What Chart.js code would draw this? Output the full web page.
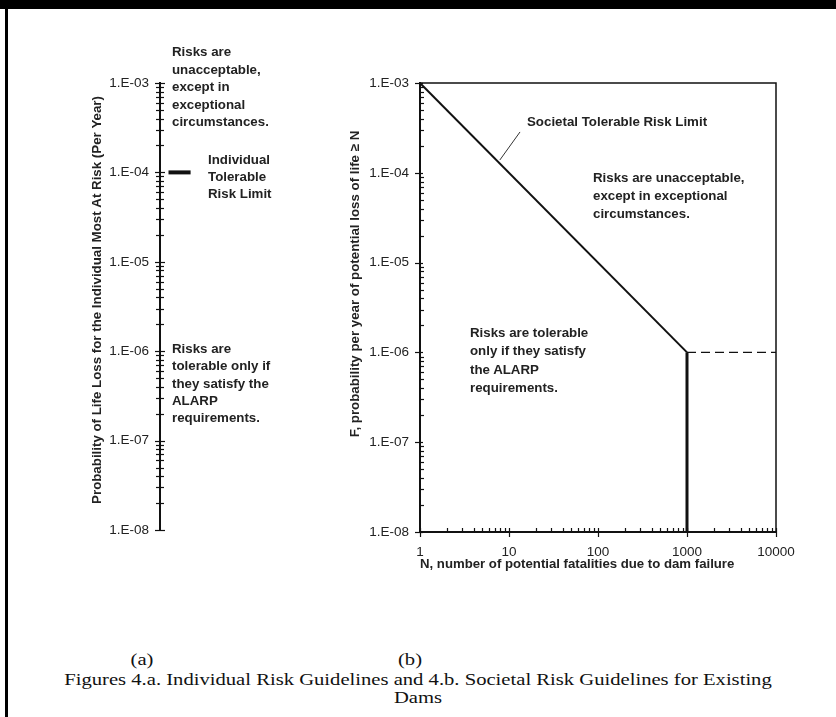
<!DOCTYPE html>
<html>
<head>
<meta charset="utf-8">
<script src="https://cdn.jsdelivr.net/npm/chart.js@4.4.1/dist/chart.umd.min.js"></script>
<style>
  body { margin: 0; background: #fff; }
  #page { position: relative; width: 836px; height: 717px; overflow: hidden; }
  canvas { position: absolute; top: 0; }
  .frameTop { position: absolute; left: 0; top: 0; width: 836px; height: 9px; background: #000; }
  .frameLeft { position: absolute; left: 5px; top: 0; width: 3px; height: 717px; background: #000; }
  .note { position: absolute; font: bold 13.3px "Liberation Sans", Arial, sans-serif; color: #222; line-height: 17.5px; white-space: nowrap; z-index: 2; }
  .cap { position: absolute; font: 16.5px "Liberation Serif", "Times New Roman", serif; color: #111; white-space: nowrap; transform: translateX(-50%) scaleX(1.25); z-index: 2; line-height: 18px; }
</style>
</head>
<body>
<div id="page">
  <div class="frameTop"></div>
  <div class="frameLeft"></div>
  <canvas id="chartA" width="330" height="600" style="left:0"></canvas>
  <canvas id="chartB" width="506" height="600" style="left:330px"></canvas>

  <div class="note" style="left:172px; top:43px">Risks are<br>unacceptable,<br>except in<br>exceptional<br>circumstances.</div>
  <div class="note" style="left:208px; top:151px; line-height:17px">Individual<br>Tolerable<br>Risk Limit</div>
  <div class="note" style="left:172px; top:340px; line-height:17.3px">Risks are<br>tolerable only if<br>they satisfy the<br>ALARP<br>requirements.</div>

  <div class="note" style="left:527px; top:113px">Societal Tolerable Risk Limit</div>
  <div class="note" style="left:593px; top:169px; line-height:18px">Risks are unacceptable,<br>except in exceptional<br>circumstances.</div>
  <div class="note" style="left:470px; top:324px; line-height:18.3px">Risks are tolerable<br>only if they satisfy<br>the ALARP<br>requirements.</div>

  <div class="cap" style="left:142px; top:651px">(a)</div>
  <div class="cap" style="left:410px; top:651px">(b)</div>
  <div class="cap" style="left:418px; top:671px">Figures 4.a. Individual Risk Guidelines and 4.b. Societal Risk Guidelines for Existing</div>
  <div class="cap" style="left:418px; top:689px">Dams</div>
</div>
<script>
// probability axis (both panels)
const probMajor = [1e-8, 1e-7, 1e-6, 1e-5, 1e-4, 1e-3];
const probLabels = ['1.E-08', '1.E-07', '1.E-06', '1.E-05', '1.E-04', '1.E-03'];
// N axis (panel b)
const nMajor = [1, 10, 100, 1000, 10000];
const nLabels = ['1', '10', '100', '1000', '10000'];

// panel (a): individual tolerable risk limit
const individualLimit = 1e-4;
const limitMarkX = [0.05, 0.18];

// panel (b): societal tolerable risk limit
const societalN = [1, 1000];
const societalF = [1e-3, 1e-6];
const cutoffN = [1000, 1000];
const cutoffF = [1e-6, 1e-8];
const dashedN = [1000, 10000];
const dashedF = [1e-6, 1e-6];
const leaderN = [7.9, 13.3];
const leaderF = [1.39e-4, 2.85e-4];

const FONT = '"Liberation Sans", Arial, sans-serif';
const INK = '#111';

function withMinors(majors) {
  const out = [];
  majors.forEach((v, i) => {
    out.push(v);
    if (i < majors.length - 1) {
      for (let k = 2; k <= 9; k++) out.push(v * k);
    }
  });
  return out;
}
const pts = (xs, ys) => xs.map((x, i) => ({ x: x, y: ys[i] }));
const isMajor = (list, v) => list.some(m => Math.abs(m - v) / m < 1e-9);
const labelFor = (list, labels) => function (value) {
  const i = list.findIndex(m => Math.abs(m - value) / m < 1e-9);
  return i >= 0 ? labels[i] : '';
};

// tick marks + rotated y title + optional frame
const tickPlugin = {
  id: 'ticks',
  afterDraw(chart, args, opts) {
    const ctx = chart.ctx;
    const area = chart.chartArea;
    ctx.save();
    ctx.strokeStyle = INK;
    ctx.lineWidth = 1.2;
    const y = chart.scales.y;
    y.ticks.forEach(t => {
      const py = Math.round(y.getPixelForValue(t.value)) + 0.5;
      const major = isMajor(probMajor, t.value);
      const l = major ? opts.yMajor : opts.yMinor;
      ctx.beginPath();
      ctx.moveTo(area.left - l[0], py);
      ctx.lineTo(area.left + l[1], py);
      ctx.stroke();
    });
    if (opts.xTicks) {
      const x = chart.scales.x;
      x.ticks.forEach(t => {
        const px = Math.round(x.getPixelForValue(t.value)) + 0.5;
        const major = isMajor(nMajor, t.value);
        ctx.beginPath();
        ctx.moveTo(px, area.bottom + (major ? 5 : 0));
        ctx.lineTo(px, area.bottom - 4);
        ctx.stroke();
      });
    }
    if (opts.frame) {
      ctx.lineWidth = 1.5;
      ctx.beginPath();
      ctx.moveTo(area.left, area.top);
      ctx.lineTo(area.right, area.top);
      ctx.lineTo(area.right, area.bottom);
      ctx.stroke();
    }
    ctx.fillStyle = '#222';
    ctx.font = 'bold 13.3px ' + FONT;
    ctx.textAlign = 'center';
    ctx.textBaseline = 'middle';
    ctx.translate(area.left - opts.titleDx, opts.titleY);
    ctx.rotate(-Math.PI / 2);
    ctx.fillText(opts.title, 0, 0);
    ctx.restore();
  }
};

const probAxis = (width) => ({
  type: 'logarithmic',
  position: 'left',
  min: 1e-8,
  max: 1e-3,
  afterFit: s => { s.width = width; },
  afterBuildTicks: s => { s.ticks = withMinors(probMajor).map(v => ({ value: v })); },
  grid: { display: false, drawTicks: false },
  border: { display: true, color: INK, width: 2 },
  ticks: {
    autoSkip: false,
    padding: 11,
    color: '#222',
    font: { family: FONT, size: 13.5 },
    callback: labelFor(probMajor, probLabels)
  }
});

new Chart(document.getElementById('chartA'), {
  type: 'line',
  data: {
    datasets: [{
      data: pts(limitMarkX, [individualLimit, individualLimit]),
      borderColor: INK,
      borderWidth: 4,
      pointRadius: 0
    }]
  },
  options: {
    responsive: false,
    animation: false,
    layout: { padding: { top: 83, bottom: 70, left: 0, right: 0 } },
    plugins: {
      legend: { display: false },
      tooltip: { enabled: false },
      ticks: {
        yMajor: [5, 5], yMinor: [4, 4],
        title: 'Probability of Life Loss for the Individual Most At Risk (Per Year)',
        titleDx: 63, titleY: 300
      }
    },
    scales: {
      x: { type: 'linear', min: 0, max: 1, display: false },
      y: probAxis(160)
    }
  },
  plugins: [tickPlugin]
});

new Chart(document.getElementById('chartB'), {
  type: 'line',
  data: {
    datasets: [
      { data: pts(societalN, societalF), borderColor: INK, borderWidth: 2, pointRadius: 0 },
      { data: pts(cutoffN, cutoffF), borderColor: INK, borderWidth: 3, pointRadius: 0 },
      { data: pts(dashedN, dashedF), borderColor: INK, borderWidth: 1.2, borderDash: [9, 5], pointRadius: 0 },
      { data: pts(leaderN, leaderF), borderColor: '#333', borderWidth: 1, pointRadius: 0 }
    ]
  },
  options: {
    responsive: false,
    animation: false,
    layout: { padding: { top: 83, bottom: 28, left: 0, right: 60 } },
    plugins: {
      legend: { display: false },
      tooltip: { enabled: false },
      ticks: {
        yMajor: [5, 3], yMinor: [0, 4], xTicks: true, frame: true,
        title: 'F, probability per year of potential loss of life \u2265 N',
        titleDx: 65, titleY: 284
      }
    },
    scales: {
      x: {
        type: 'logarithmic',
        min: 1,
        max: 10000,
        afterFit: s => { s.height = 40; },
        afterBuildTicks: s => { s.ticks = withMinors(nMajor).map(v => ({ value: v })); },
        grid: { display: false, drawTicks: false },
        border: { display: true, color: INK, width: 2 },
        ticks: {
          autoSkip: false,
          maxRotation: 0,
          padding: 12,
          color: '#222',
          font: { family: FONT, size: 13.5 },
          callback: labelFor(nMajor, nLabels)
        },
        title: {
          display: true,
          align: 'start',
          text: 'N, number of potential fatalities due to dam failure',
          color: '#222',
          font: { family: FONT, size: 13.2, weight: 'bold' },
          padding: 0
        }
      },
      y: probAxis(90)
    }
  },
  plugins: [tickPlugin]
});
</script>
</body>
</html>
